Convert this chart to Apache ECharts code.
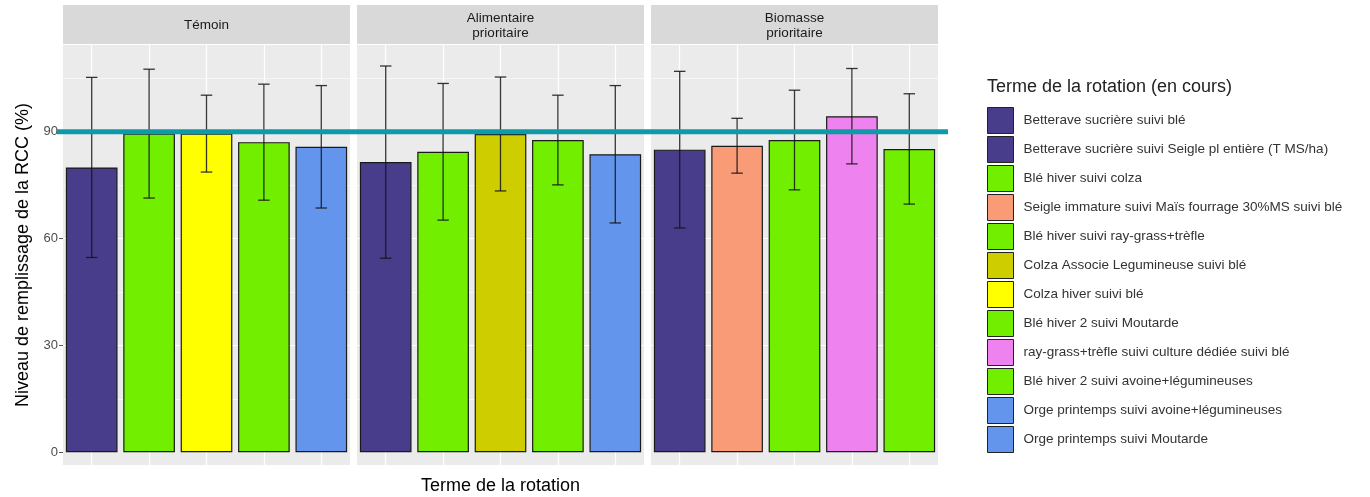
<!DOCTYPE html>
<html><head><meta charset="utf-8">
<script src="https://cdn.jsdelivr.net/npm/echarts@6/dist/echarts.min.js"></script>
<style>html,body{margin:0;padding:0;background:#fff}#c{width:1370px;height:497px}</style>
</head><body><div id="c"></div>
<script>
// ---------- data ----------
const panels = ['Témoin', 'Alimentaire\nprioritaire', 'Biomasse\nprioritaire'];
const legendItems = [
  'Betterave sucrière suivi blé',
  'Betterave sucrière suivi Seigle pl entière (T MS/ha)',
  'Blé hiver suivi colza',
  'Seigle immature suivi Maïs fourrage 30%MS suivi blé',
  'Blé hiver suivi ray-grass+trèfle',
  'Colza Associe Legumineuse suivi blé',
  'Colza hiver suivi blé',
  'Blé hiver 2 suivi Moutarde',
  'ray-grass+trèfle suivi culture dédiée suivi blé',
  'Blé hiver 2 suivi avoine+légumineuses',
  'Orge printemps suivi avoine+légumineuses',
  'Orge printemps suivi Moutarde'
];
const legendColors = ['#483D8B','#483D8B','#72EE00','#FA9B78','#72EE00','#CDCD00','#FFFF00','#72EE00','#EE82EE','#72EE00','#6495ED','#6495ED'];

const catsTemoin = ['Betterave sucrière suivi blé','Blé hiver suivi colza','Colza hiver suivi blé','Blé hiver 2 suivi Moutarde','Orge printemps suivi Moutarde'];
const meanTemoin = [80.0, 89.5, 89.5, 87.1, 85.8];
const sdTemoin   = [25.3, 18.1, 10.8, 16.3, 17.2];

const catsAlim = ['Betterave sucrière suivi blé','Blé hiver suivi colza','Colza Associe Legumineuse suivi blé','Blé hiver 2 suivi Moutarde','Orge printemps suivi avoine+légumineuses'];
const meanAlim = [81.5, 84.4, 89.4, 87.7, 83.7];
const sdAlim   = [27.0, 19.2, 16.0, 12.6, 19.3];

const catsBio = ['Betterave sucrière suivi Seigle pl entière (T MS/ha)','Seigle immature suivi Maïs fourrage 30%MS suivi blé','Blé hiver suivi ray-grass+trèfle','ray-grass+trèfle suivi culture dédiée suivi blé','Blé hiver 2 suivi avoine+légumineuses'];
const meanBio = [85.0, 86.1, 87.7, 94.4, 85.2];
const sdBio   = [22.0, 7.7, 14.0, 13.4, 15.5];

const yTicks = [0, 30, 60, 90];
const yMinorTicks = [15, 45, 75, 105];
const targetLevel = 90;

// ---------- layout ----------
const FONT = '"Liberation Sans", Arial, sans-serif';
const gridLefts = [63, 357, 651];
const gridW = 287, gridTop = 45, gridBottom = 32;
const stripTop = 5, stripH = 39;
const yMin = -3.6, yMax = 114.4;

const panelCats = [catsTemoin, catsAlim, catsBio];
const panelMeans = [meanTemoin, meanAlim, meanBio];
const panelSds = [sdTemoin, sdAlim, sdBio];
const colorOf = n => legendColors[legendItems.indexOf(n)];

const grids = [], xAxes = [], yAxes = [], series = [];
panels.forEach((p, i) => {
  grids.push({left: gridLefts[i], width: gridW, top: gridTop, bottom: gridBottom,
    show: true, backgroundColor: '#EBEBEB', borderWidth: 0, containLabel: false, outerBoundsMode: 'none'});
  xAxes.push({type: 'category', gridIndex: i, data: panelCats[i],
    axisLine: {show: false},
    axisTick: {show: true, alignWithLabel: true, length: 4, lineStyle: {color: '#555', width: 1}},
    axisLabel: {show: false}, splitLine: {show: false},
    name: i === 1 ? 'Terme de la rotation' : '', nameLocation: 'middle', nameGap: 12,
    nameTextStyle: {fontFamily: FONT, fontSize: 18, color: '#000'}});
  yAxes.push({type: 'value', gridIndex: i, min: yMin, max: yMax, splitNumber: 4,
    axisLine: {show: false},
    axisTick: {show: i === 0, length: 4, customValues: yTicks, lineStyle: {color: '#555'}},
    axisLabel: {show: i === 0, customValues: yTicks, fontFamily: FONT, fontSize: 13, color: '#4D4D4D', margin: 5},
    splitLine: {show: true, showMinLine: false, showMaxLine: false, lineStyle: {color: '#FFFFFF', width: 1.2}},
    name: i === 0 ? 'Niveau de remplissage de la RCC (%)' : '', nameLocation: 'middle', nameGap: 31,
    nameTextStyle: {fontFamily: FONT, fontSize: 18, color: '#000'}});
  // grid-line host (minor horizontal + vertical major)
  series.push({type: 'line', name: 'grid' + i, xAxisIndex: i, yAxisIndex: i, data: [], z: 1, silent: true,
    markLine: {silent: true, z: 1, symbol: 'none', label: {show: false}, animation: false,
      data: yMinorTicks.map(v => ({yAxis: v, lineStyle: {color: '#FFFFFF', width: 0.6, type: 'solid'}}))
        .concat(panelCats[i].map((c, k) => ({xAxis: k, lineStyle: {color: '#FFFFFF', width: 1.2, type: 'solid'}})))
    }});
  series.push({type: 'bar', name: p, xAxisIndex: i, yAxisIndex: i, z: 3, barCategoryGap: '10%',
    data: panelMeans[i].map((v, k) => ({value: v, itemStyle: {color: colorOf(panelCats[i][k]), borderColor: '#1A1A1A', borderWidth: 1.2}})),
    animation: false});
  series.push({type: 'custom', name: 'err' + i, xAxisIndex: i, yAxisIndex: i, z: 4, silent: true,
    encode: {x: 0, y: [1, 2]},
    data: panelMeans[i].map((v, k) => [k, v - panelSds[i][k], v + panelSds[i][k]]),
    renderItem: (params, api) => {
      const x = api.value(0);
      const pHi = api.coord([x, api.value(2)]);
      const pLo = api.coord([x, api.value(1)]);
      const half = api.size([1, 0])[0] * 0.1;
      const st = {stroke: 'rgba(20,20,20,0.85)', lineWidth: 1.3};
      return {type: 'group', children: [
        {type: 'line', shape: {x1: pHi[0], y1: pHi[1], x2: pLo[0], y2: pLo[1]}, style: st},
        {type: 'line', shape: {x1: pHi[0] - half, y1: pHi[1], x2: pHi[0] + half, y2: pHi[1]}, style: st},
        {type: 'line', shape: {x1: pLo[0] - half, y1: pLo[1], x2: pLo[0] + half, y2: pLo[1]}, style: st}
      ]};
    },
    animation: false});
});
// legend source
series.push({type: 'pie', name: 'legendSrc', radius: [0, 0], center: [-100, -100], silent: true,
  stillShowZeroSum: false, label: {show: false}, labelLine: {show: false},
  data: legendItems.map((n, k) => ({name: n, value: 0, itemStyle: {color: legendColors[k]}}))});

const graphics = panels.map((p, i) => ({
  type: 'group', children: [
    {type: 'rect', shape: {x: gridLefts[i], y: stripTop, width: gridW, height: stripH}, style: {fill: '#D9D9D9'}},
    {type: 'text', x: gridLefts[i] + gridW / 2, y: stripTop + stripH / 2 + 1,
      style: {text: p, fontFamily: FONT, fontSize: 13.5, fill: '#1A1A1A', align: 'center', verticalAlign: 'middle', lineHeight: 15}}
  ]}));

const chart = echarts.init(document.getElementById('c'), null, {renderer: 'canvas'});
chart.setOption({
  animation: false,
  backgroundColor: '#FFFFFF',
  grid: grids, xAxis: xAxes, yAxis: yAxes, series: series,
  title: {text: 'Terme de la rotation (en cours)', left: 982, top: 73,
    textStyle: {fontFamily: FONT, fontSize: 18, fontWeight: 'normal', color: '#222'}},
  legend: {orient: 'vertical', left: 987, top: 107, padding: 0, itemWidth: 26, itemHeight: 26, itemGap: 2,
    selectedMode: false, icon: 'rect',
    data: legendItems.map((n, k) => ({name: n, icon: 'rect', itemStyle: {color: legendColors[k], borderColor: '#222', borderWidth: 1}})),
    textStyle: {fontFamily: FONT, fontSize: 13.5, color: '#333', padding: [0, 0, 0, 5]}},
  graphic: graphics
});
const yT = chart.convertToPixel({yAxisIndex: 0}, targetLevel);
graphics.push({type: 'line', z: 100, shape: {x1: gridLefts[0] - 6, y1: yT, x2: gridLefts[2] + gridW + 10, y2: yT},
  style: {stroke: '#0E9AA6', lineWidth: 5}});
chart.setOption({graphic: graphics});
</script></body></html>
